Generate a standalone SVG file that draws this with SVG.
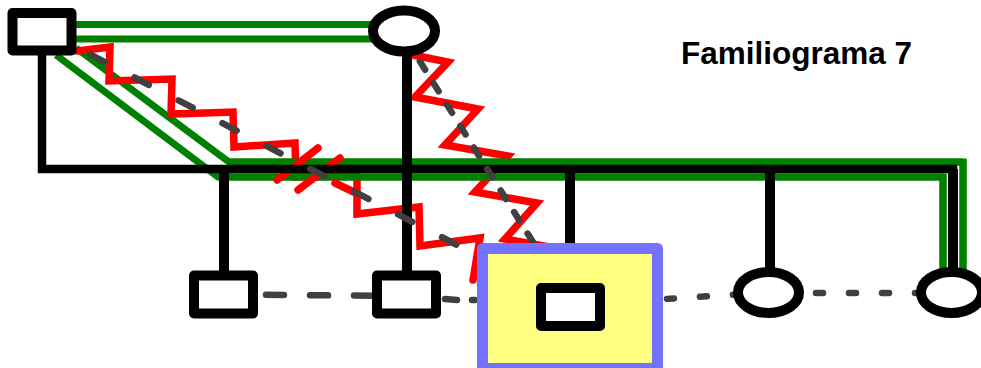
<svg xmlns="http://www.w3.org/2000/svg" width="981" height="368" viewBox="0 0 981 368">
<style>
.g{stroke:#008000;stroke-width:7;fill:none}
.r{stroke:#FF0000;stroke-width:7.5;fill:none;stroke-linejoin:miter;stroke-linecap:round}
.k{stroke:#000;fill:none;stroke-linejoin:miter}
.d{stroke:#404040;stroke-width:6.5;fill:none;stroke-linecap:round}
.n{fill:#fff;stroke:#000;stroke-width:10;stroke-linejoin:round}
.t{font-family:"Liberation Sans",Arial,sans-serif;font-weight:bold;font-size:31.5px;fill:#000}
</style>
<rect width="981" height="368" fill="#fff"/>
<g id="connectors">
  <path class="g" d="M76,24.5 H372 M76,39 H372"/>
  <path class="g" d="M76,48 L229,162 H963 V272"/>
  <path class="g" d="M56,55 L218,177 H943 V272"/>
  <path class="r" d="M77,51 L110,47 L109,81 L172,79 L171,114 L233,112 L234,147 L295,143 L296,177 L357,176 L357,214 L419,207 L420,246 L480,238 L473,280"/>
  <path class="r" d="M413,55 L448,62 L415,97 L478,109 L445,145 L508,156 L475,192 L537,203 L505,239 L566,250"/>
  <path class="g" d="M229,162 H963 M218,177 H943"/>
  <path class="g" stroke-width="10" d="M963,159 V272 M943,174 V272"/>
  <path class="r" d="M277,180 L318,148 M298,190 L340,158 M335,183 L358,194"/>
  <path class="k" stroke-width="8.5" d="M42,50 V169 H953 V272"/>
  <path class="k" stroke-width="10" d="M224,169 V276 M407,50 V276 M570,169 V249 M770,169 V272 M953,169 V272"/>
  <path class="d" stroke-dasharray="16 33.5" stroke-dashoffset="28.5" d="M72,45 L482,258"/>
  <path class="d" stroke-dasharray="10 15.4" stroke-dashoffset="14.4" d="M414,52 L536,247"/>
  <path class="d" stroke-dasharray="18 26" stroke-dashoffset="2" d="M224,294.5 L407,296"/>
  <path class="d" d="M445,299 L457,300 M472,300 L475,300"/>
  <path class="d" stroke-dasharray="7 26" stroke-dashoffset="1.8" d="M570,305 L768,292.5"/>
  <path class="d" stroke-dasharray="7 26" stroke-dashoffset="18" d="M768,293 L952,293"/>
</g>
<g id="father"><rect class="n" x="12.5" y="13" width="59" height="37.5"/></g>
<g id="mother"><ellipse class="n" cx="404" cy="31" rx="31" ry="20.5"/></g>
<g id="son1"><rect class="n" x="194" y="275.5" width="59" height="38"/></g>
<g id="son2"><rect class="n" x="377" y="275.5" width="59" height="38"/></g>
<g id="index">
  <rect x="482.5" y="248.5" width="175" height="120" fill="#FFFF80" stroke="#7373FF" stroke-width="11" stroke-linejoin="round"/>
  <rect class="n" x="541" y="288" width="59" height="38"/>
</g>
<g id="daughter1"><ellipse class="n" cx="768.5" cy="292.5" rx="30.5" ry="20.5"/></g>
<g id="daughter2"><ellipse class="n" cx="951.5" cy="292.5" rx="30.5" ry="20.5"/></g>
<g id="title"><text class="t" x="681" y="64">Familiograma 7</text></g>
</svg>
